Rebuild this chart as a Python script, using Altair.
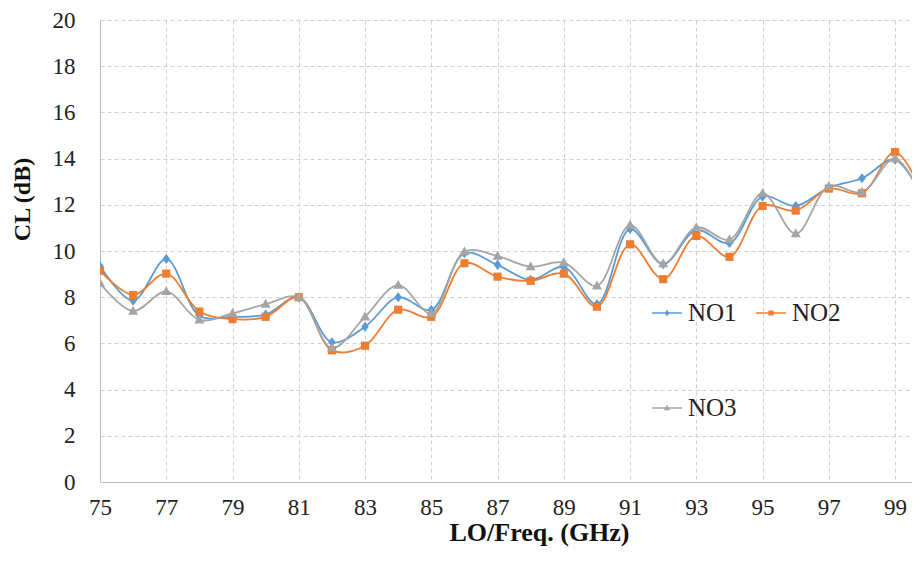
import altair as alt
import pandas as pd

freq = [75, 76, 77, 78, 79, 80, 81, 82, 83, 84, 85, 86, 87, 88, 89, 90,
        91, 92, 93, 94, 95, 96, 97, 98, 99, 100]
no1 = [9.35, 7.85, 9.65, 7.2, 7.15, 7.25, 8.0, 6.05, 6.72, 8.0, 7.45, 9.9, 9.4,
       8.75, 9.3, 7.7, 10.95, 9.43, 10.9, 10.35, 12.35, 11.95, 12.75, 13.15, 13.95, 11.8]
no2 = [9.15, 8.1, 9.02, 7.38, 7.05, 7.15, 8.0, 5.7, 5.9, 7.46, 7.15, 9.47, 8.89,
       8.71, 9.02, 7.59, 10.29, 8.78, 10.65, 9.75, 11.95, 11.75, 12.7, 12.5, 14.28, 11.9]
no3 = [8.6, 7.4, 8.25, 7.02, 7.3, 7.7, 8.0, 5.8, 7.15, 8.52, 7.3, 9.97, 9.78,
       9.32, 9.5, 8.49, 11.12, 9.45, 11.02, 10.5, 12.5, 10.75, 12.8, 12.55, 14.0, 11.7]
series_names = ["NO1", "NO2", "NO3"]
colors = ["#5B9BD5", "#ED7D31", "#A5A5A5"]
x_ticks = [75, 77, 79, 81, 83, 85, 87, 89, 91, 93, 95, 97, 99]
y_ticks = [0, 2, 4, 6, 8, 10, 12, 14, 16, 18, 20]

rows = []
for name, vals in zip(series_names, [no1, no2, no3]):
    for f, v in zip(freq, vals):
        rows.append({"freq": f, "cl": v, "series": name})
df = pd.DataFrame(rows)

FONT = "Liberation Serif"
# marker shapes (unit coordinates, scaled by sqrt(size)/2)
marker_paths = [
    "M0,-0.21L0.16,0L0,0.21L-0.16,0Z",
    "M-0.17,-0.17H0.17V0.17H-0.17Z",
    "M0,-0.22L0.21,0.15H-0.21Z",
]
seg = "M-1,-0.05H1V0.05H-1Z "
legend_paths = [seg + p for p in marker_paths]

x_scale = alt.Scale(domain=[75, 99.51], nice=False, zero=False)
y_scale = alt.Scale(domain=[0, 20], nice=False)
color_scale = alt.Scale(domain=series_names, range=colors)

leg = alt.Legend(orient="none", legendX=552, legendY=278, direction="horizontal",
                 columns=2, columnPadding=19, rowPadding=67,
                 labelFont=FONT, labelFontSize=25, labelOffset=6,
                 labelFontWeight="normal",
                 labelColor="#222222", symbolSize=900, symbolType="square",
                 symbolOpacity=1, symbolStrokeWidth=0, title=None, padding=0)

x_enc = alt.X("freq:Q", scale=x_scale,
              axis=alt.Axis(values=x_ticks, title="LO/Freq. (GHz)", format="d",
                            labelFont=FONT, labelFontSize=23, labelColor="#222222",
                            labelFontWeight="normal",
                            labelFlush=False, labelPadding=14,
                            titleFont=FONT, titleFontSize=26, titleFontWeight="bold",
                            titleColor="#111111",
                            titleX=439, titleY=50, titleBaseline="middle",
                            grid=True, gridColor="#D0D0D0", gridDash=[4, 3],
                            domainColor="#BFBFBF", ticks=False, tickSize=0))
y_enc = alt.Y("cl:Q", scale=y_scale,
              axis=alt.Axis(values=y_ticks, title="CL (dB)",
                            labelFont=FONT, labelFontSize=23, labelColor="#222222",
                            labelFontWeight="normal",
                            labelFlush=False, labelPadding=25,
                            titleFont=FONT, titleFontSize=24, titleFontWeight="bold",
                            titleColor="#111111",
                            titleX=-78, titleY=179, titleBaseline="middle",
                            grid=True, gridColor="#D0D0D0", gridDash=[4, 3],
                            domainColor="#BFBFBF", ticks=False, tickSize=0))

base = alt.Chart(df)

lines = base.mark_line(interpolate="catmull-rom", strokeWidth=1.8, clip=True).encode(
    x=x_enc, y=y_enc,
    color=alt.Color("series:N", scale=color_scale, legend=leg),
)

point_layers = []
for name, path in zip(series_names, marker_paths):
    point_layers.append(
        base.transform_filter(alt.datum.series == name)
        .mark_point(filled=True, size=2300, opacity=1, shape=path, clip=True)
        .encode(x="freq:Q", y="cl:Q",
                color=alt.Color("series:N", scale=color_scale, legend=leg))
    )

# legend-only layer: no rows survive the filter, the legend comes from the scales
legend_layer = base.transform_filter("false").mark_point(filled=True, size=900, opacity=1).encode(
    x="freq:Q", y="cl:Q",
    color=alt.Color("series:N", scale=color_scale, legend=leg),
    shape=alt.Shape("series:N", scale=alt.Scale(domain=series_names, range=legend_paths),
                    legend=leg),
)

chart = alt.layer(lines, *point_layers, legend_layer).properties(
    width=812, height=462,
    autosize=alt.AutoSizeParams(type="none"),
    padding={"left": 92, "top": 12, "right": 0, "bottom": 72},
).configure_view(stroke=None)

chart.save("out.html", embed_options={"renderer": "svg", "actions": False})
